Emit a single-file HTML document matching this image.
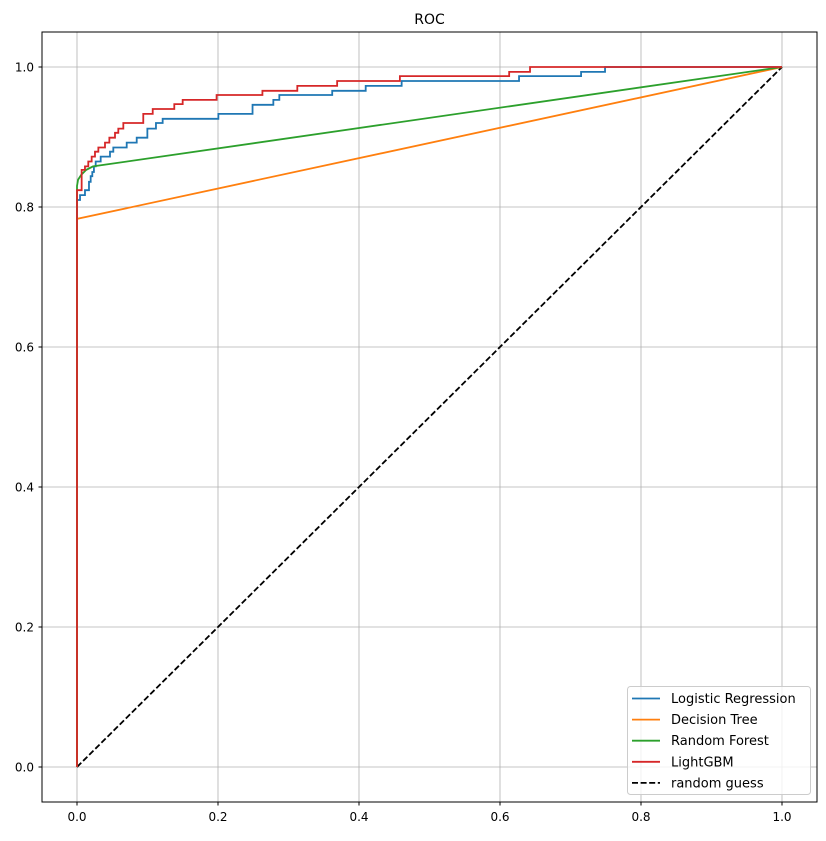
<!DOCTYPE html>
<html><head><meta charset="utf-8"><style>
body{margin:0;background:#fff;}
svg text{font-family:"DejaVu Sans","Liberation Sans",sans-serif;}
</style></head><body>
<svg id="chart" width="826" height="836" xmlns="http://www.w3.org/2000/svg">
<rect width="826" height="836" fill="#fff"/>
<text x="429.5" y="24" font-size="14" text-anchor="middle">ROC</text>
<g id="grid"></g>
<g id="series"></g>
<rect x="42" y="32" width="775" height="770" fill="none" stroke="#000" stroke-width="1"/>
<g id="ticks"></g>
<g id="legend"></g>
</svg>
<script>
const xTicks=[0,0.2,0.4,0.6,0.8,1.0];
const yTicks=[0,0.2,0.4,0.6,0.8,1.0];
const tickLabels=["0.0","0.2","0.4","0.6","0.8","1.0"];
const seriesNames=["Logistic Regression","Decision Tree","Random Forest","LightGBM","random guess"];
const seriesColors=["#1f77b4","#ff7f0e","#2ca02c","#d62728","#000000"];
const lrFpr=[0,0,0.0043,0.0043,0.0113,0.0113,0.017,0.017,0.0194,0.0194,0.0217,0.0217,0.024,0.024,0.0265,0.0265,0.0336,0.0336,0.0468,0.0468,0.0515,0.0515,0.0705,0.0705,0.0847,0.0847,0.0998,0.0998,0.112,0.112,0.1215,0.1215,0.2005,0.2005,0.249,0.249,0.2785,0.2785,0.287,0.287,0.362,0.362,0.4095,0.4095,0.4605,0.4605,0.627,0.627,0.715,0.715,0.749,0.749,1];
const lrTpr=[0,0.81,0.81,0.817,0.817,0.824,0.824,0.836,0.836,0.844,0.844,0.85,0.85,0.858,0.858,0.865,0.865,0.872,0.872,0.879,0.879,0.885,0.885,0.892,0.892,0.899,0.899,0.912,0.912,0.92,0.92,0.926,0.926,0.933,0.933,0.946,0.946,0.953,0.953,0.96,0.96,0.966,0.966,0.973,0.973,0.98,0.98,0.987,0.987,0.993,0.993,1,1];
const dtFpr=[0,0,1];
const dtTpr=[0,0.783,1];
const rfFpr=[0,0,0.0015,0.006,0.013,0.0227,1];
const rfTpr=[0,0.83,0.839,0.846,0.853,0.858,1];
const gbFpr=[0,0,0.0066,0.0066,0.0113,0.0113,0.016,0.016,0.0208,0.0208,0.0255,0.0255,0.0303,0.0303,0.0397,0.0397,0.0459,0.0459,0.0539,0.0539,0.0586,0.0586,0.0657,0.0657,0.094,0.094,0.1074,0.1074,0.138,0.138,0.1499,0.1499,0.198,0.198,0.263,0.263,0.3125,0.3125,0.369,0.369,0.458,0.458,0.613,0.613,0.6426,0.6426,1];
const gbTpr=[0,0.824,0.824,0.853,0.853,0.858,0.858,0.865,0.865,0.872,0.872,0.879,0.879,0.885,0.885,0.892,0.892,0.899,0.899,0.906,0.906,0.912,0.912,0.92,0.92,0.933,0.933,0.94,0.94,0.947,0.947,0.953,0.953,0.96,0.96,0.966,0.966,0.973,0.973,0.98,0.98,0.987,0.987,0.993,0.993,1,1];
const guessFpr=[0,1];
const guessTpr=[0,1];

const NS="http://www.w3.org/2000/svg";
const X=v=>77+705*v;
const Y=v=>767-700*v;
function mk(tag,attrs,parent){const e=document.createElementNS(NS,tag);for(const k in attrs)e.setAttribute(k,attrs[k]);parent.appendChild(e);return e;}
const grid=document.getElementById('grid'),ticks=document.getElementById('ticks'),ser=document.getElementById('series'),leg=document.getElementById('legend');
xTicks.forEach((t,i)=>{
  const g=mk('line',{x1:X(t),x2:X(t),y1:32,y2:802,stroke:'#b0b0b0','stroke-width':0.8},grid);
  
  
  const tk=mk('line',{x1:X(t),x2:X(t),y1:802,y2:805.5,stroke:'#000'},ticks);
  
  
  const tl=mk('text',{x:X(t),y:821,'font-size':12,'text-anchor':'middle'},ticks);
  tl.textContent=tickLabels[i];
  
  
});
yTicks.forEach((t,i)=>{
  const g=mk('line',{x1:42,x2:817,y1:Y(t),y2:Y(t),stroke:'#b0b0b0','stroke-width':0.8},grid);
  
  
  const tk=mk('line',{x1:38.5,x2:42,y1:Y(t),y2:Y(t),stroke:'#000'},ticks);
  
  
  const tl=mk('text',{x:34,y:Y(t)+4.5,'font-size':12,'text-anchor':'end'},ticks);
  tl.textContent=tickLabels[i];
  
  
});
const all=[[lrFpr,lrTpr],[dtFpr,dtTpr],[rfFpr,rfTpr],[gbFpr,gbTpr],[guessFpr,guessTpr]];
const seriesIds=['logistic-regression-line','decision-tree-line','random-forest-line','lightgbm-line','random-guess-line'];
[4,0,1,2,3].forEach(i=>{
  const [fx,fy]=all[i];
  const pts=fx.map((v,j)=>X(v).toFixed(2)+','+Y(fy[j]).toFixed(2)).join(' ');
  const p=mk('polyline',{points:pts,fill:'none',stroke:seriesColors[i],'stroke-width':1.8,'stroke-linejoin':'miter'},ser);
  if(i===4)p.setAttribute('stroke-dasharray','6,2.6');
  
  
});
const box=mk('rect',{x:627.5,y:686.5,width:183,height:108,rx:3,fill:'#fff','fill-opacity':0.8,stroke:'#ccc'},leg);


seriesNames.forEach((n,i)=>{
  const yy=698.5+21.1*i;
  const l=mk('line',{x1:632,x2:660,y1:yy,y2:yy,stroke:seriesColors[i],'stroke-width':1.8},leg);
  if(i===4)l.setAttribute('stroke-dasharray','6,2.6');
  
  
  const t=mk('text',{x:671,y:yy+4.5,'font-size':13},leg);
  t.textContent=n;
  
  
});
</script>
</body></html>
